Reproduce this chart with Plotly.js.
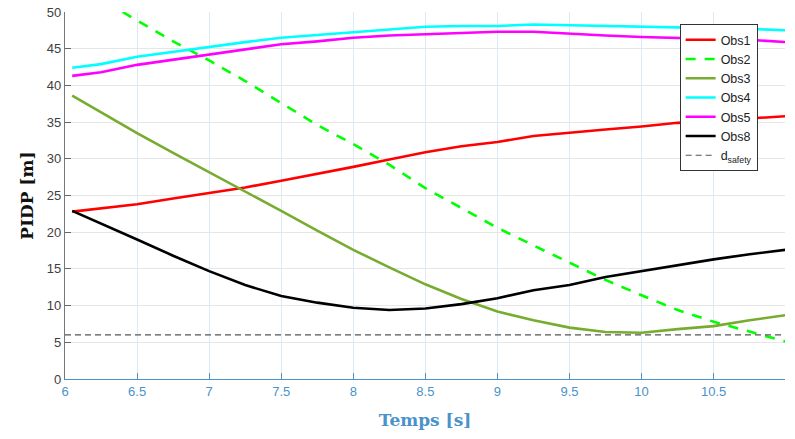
<!DOCTYPE html>
<html>
<head>
<meta charset="utf-8">
<script src="https://cdn.plot.ly/plotly-3.0.1.min.js"></script>
<style>html,body{margin:0;padding:0;background:#fff;}#chart{width:795px;height:439px;}</style>
</head>
<body>
<div id="chart"></div>
<script>
// Time samples (s)
var t = [6.05, 6.25, 6.5, 6.75, 7.0, 7.25, 7.5, 7.75, 8.0, 8.25, 8.5, 8.75, 9.0, 9.25, 9.5, 9.75, 10.0, 10.25, 10.5, 10.75, 11.0];
var t2 = [6.4, 6.75, 7.0, 7.25, 7.5, 7.75, 8.0, 8.25, 8.5, 8.75, 9.0, 9.25, 9.5, 9.75, 10.0, 10.25, 10.5, 10.75, 11.0];

// PIDP values (m)
var obs1 = [22.8, 23.2, 23.8, 24.6, 25.3, 26.1, 27.0, 27.9, 28.9, 29.9, 30.9, 31.7, 32.3, 33.1, 33.6, 34.0, 34.4, 34.9, 35.2, 35.5, 35.8];
var obs2 = [50.0, 46.0, 43.4, 40.6, 37.6, 34.6, 32.0, 29.2, 26.0, 23.3, 20.6, 18.2, 15.8, 13.5, 11.4, 9.4, 7.8, 6.5, 5.1];
var obs3 = [38.6, 36.3, 33.5, 30.8, 28.2, 25.6, 22.9, 20.2, 17.6, 15.2, 12.9, 10.9, 9.2, 8.0, 7.0, 6.4, 6.3, 6.8, 7.2, 8.0, 8.7];
var obs4 = [42.4, 42.9, 43.9, 44.6, 45.2, 45.9, 46.5, 46.9, 47.3, 47.7, 48.0, 48.1, 48.1, 48.3, 48.2, 48.1, 48.0, 47.8, 47.8, 47.7, 47.5];
var obs5 = [41.3, 41.8, 42.8, 43.5, 44.1, 44.9, 45.6, 46.0, 46.5, 46.8, 47.0, 47.1, 47.3, 47.3, 47.0, 46.8, 46.6, 46.5, 46.4, 46.2, 45.9];
var obs8 = [22.9, 21.2, 19.0, 16.8, 14.7, 12.8, 11.3, 10.4, 9.7, 9.4, 9.6, 10.2, 11.0, 12.1, 12.8, 13.9, 14.7, 15.6, 16.3, 17.0, 17.6];
var dSafety = 6;
var tSafety = [6.0, 11.0];

var xTicks = [6, 6.5, 7, 7.5, 8, 8.5, 9, 9.5, 10, 10.5];
var xTickText = ['6', '6.5', '7', '7.5', '8', '8.5', '9', '9.5', '10', '10.5'];
var yTicks = [0, 5, 10, 15, 20, 25, 30, 35, 40, 45, 50];

var names = ['Obs1', 'Obs2', 'Obs3', 'Obs4', 'Obs5', 'Obs8'];

var lw = 2.6;
var traces = [
  {x: t, y: obs1, name: names[0], mode: 'lines', line: {color: '#ff0000', width: lw}},
  {x: t2, y: obs2, name: names[1], mode: 'lines', line: {color: '#00ff00', width: lw, dash: '10px,9px'}},
  {x: t, y: obs3, name: names[2], mode: 'lines', line: {color: '#77ac30', width: lw}},
  {x: t, y: obs4, name: names[3], mode: 'lines', line: {color: '#00ffff', width: lw}},
  {x: t, y: obs5, name: names[4], mode: 'lines', line: {color: '#ff00ff', width: lw}},
  {x: t, y: obs8, name: names[5], mode: 'lines', line: {color: '#000000', width: lw}},
  {x: tSafety, y: [dSafety, dSafety], name: 'd<sub>safety</sub>', mode: 'lines', line: {color: '#555555', width: 1.2, dash: '6px,4px'}}
];

var blue = '#4a92c9';
var layout = {
  width: 795, height: 439,
  margin: {l: 65, r: 10, t: 12, b: 60},
  paper_bgcolor: '#ffffff', plot_bgcolor: '#ffffff',
  font: {family: 'Liberation Sans, Arial, sans-serif', size: 13, color: '#404040'},
  showlegend: true,
  legend: {
    x: 0.962, xanchor: 'right', y: 0.967, yanchor: 'top',
    bgcolor: '#ffffff', bordercolor: '#333333', borderwidth: 1,
    font: {family: 'Liberation Sans, Arial, sans-serif', size: 12.5, color: '#222222'},
    tracegroupgap: 0
  },
  xaxis: {
    range: [6, 10.995], tickvals: xTicks, ticktext: xTickText,
    ticks: 'inside', ticklen: 6, tickcolor: blue, tickwidth: 1,
    showline: true, linecolor: blue, linewidth: 1.2,
    showgrid: true, gridcolor: '#dde9f5', gridwidth: 1,
    zeroline: false,
    tickfont: {color: blue, size: 13, family: 'Liberation Sans, Arial, sans-serif'},
    title: {text: '<b>Temps [s]</b>', font: {family: 'DejaVu Serif, Liberation Serif, serif', size: 17, color: blue}, standoff: 16}
  },
  yaxis: {
    range: [0, 50], tickvals: yTicks,
    ticks: 'inside', ticklen: 6, tickcolor: '#666666', tickwidth: 1,
    showline: true, linecolor: '#777777', linewidth: 1.2,
    showgrid: true, gridcolor: '#e6e6e6', gridwidth: 1,
    zeroline: false,
    tickfont: {color: '#404040', size: 13, family: 'Liberation Sans, Arial, sans-serif'},
    title: {text: '<b>PIDP [m]</b>', font: {family: 'DejaVu Serif, Liberation Serif, serif', size: 17, color: '#111111'}, standoff: 8}
  }
};

Plotly.newPlot('chart', traces, layout, {displayModeBar: false, staticPlot: true});
</script>
</body>
</html>
